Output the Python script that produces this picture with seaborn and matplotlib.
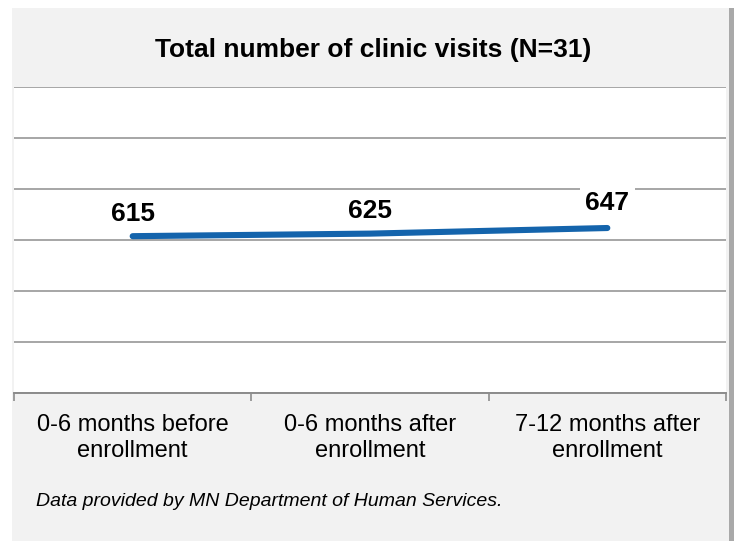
import pandas as pd
import seaborn as sns
import matplotlib.pyplot as plt
from matplotlib.patches import Rectangle

# data
periods = ["0-6 months before\nenrollment", "0-6 months after\nenrollment", "7-12 months after\nenrollment"]
visits = [615, 625, 647]

df = pd.DataFrame({"period": periods, "visits": visits})

sns.set_theme(style="white")
plt.rcParams["font.family"] = ["Liberation Sans", "DejaVu Sans"]
plt.rcParams["text.color"] = "black"

W, H = 734, 541
fig = plt.figure(figsize=(W / 100, H / 100), dpi=100)
fig.patch.set_facecolor("white")

# gray chart panel and right edge shadow
fig.patches.append(Rectangle((12 / W, 0), (729 - 12) / W, 1 - 8 / H,
                             transform=fig.transFigure, facecolor="#f2f2f2",
                             edgecolor="none", zorder=-5))
fig.patches.append(Rectangle((729 / W, 0), 5 / W, 1 - 8 / H,
                             transform=fig.transFigure, facecolor="#a9a9a9",
                             edgecolor="none", zorder=-5))

ax = fig.add_axes([14 / W, 1 - 393 / H, (726 - 14) / W, (393 - 87) / H])
ax.set_facecolor("white")

sns.lineplot(data=df, x="period", y="visits", ax=ax, color="#1464ac",
             linewidth=4.4, solid_capstyle="round", sort=False)

ax.set_xlim(-0.5, 2.5)
ax.set_ylim(0, 1200)
ax.set_yticks(range(0, 1201, 200))
ax.yaxis.grid(True, color="#a6a6a6", linewidth=1.4)
ax.set_axisbelow(True)
ax.tick_params(axis="y", left=False, labelleft=False)

for s in ["left", "right", "top"]:
    ax.spines[s].set_visible(False)
ax.spines["bottom"].set_color("#8c8c8c")
ax.spines["bottom"].set_linewidth(1.4)

ax.set_xticks(range(len(periods)))
ax.set_xticklabels(periods, fontsize=17, color="black", linespacing=1.25)
ax.set_xticks([-0.5, 0.5, 1.5, 2.5], minor=True)
ax.tick_params(axis="x", which="major", length=0, pad=15)
ax.tick_params(axis="x", which="minor", length=6, width=1.2, color="#8c8c8c",
               direction="out", bottom=True)
ax.set_xlabel("")
ax.set_ylabel("")

# value labels
offsets = [16, 16, 18]
for i, v in enumerate(visits):
    t = ax.annotate(str(v), (i, v), xytext=(0, offsets[i]), textcoords="offset points",
                    ha="center", va="center", fontsize=19, fontweight="bold",
                    color="black")
    if i == 2:
        t.set_bbox(dict(facecolor="white", edgecolor="none", pad=4))

fig.text(373 / W, 1 - 50 / H, "Total number of clinic visits (N=31)",
         ha="center", va="center", fontsize=19, fontweight="bold", color="black")
fig.text(36 / W, 1 - 501 / H, "Data provided by MN Department of Human Services.",
         ha="left", va="center", fontsize=14, style="italic", color="black")

fig.savefig("out.png", dpi=100, facecolor=fig.get_facecolor())
